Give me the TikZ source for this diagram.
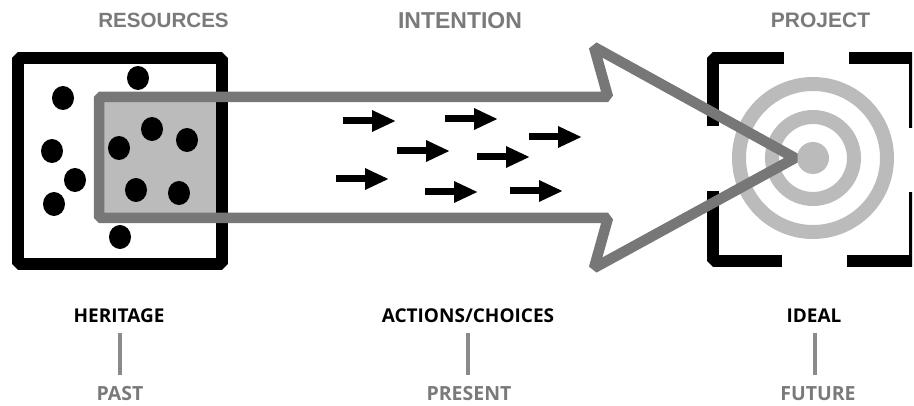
\documentclass[tikz,border=0pt]{standalone}
\usepackage{fontspec}
\usetikzlibrary{arrows.meta}
\newfontfamily\titlefont{Liberation Sans}
\newfontfamily\labfont{Open Sans}
\definecolor{darkgr}{HTML}{777777}
\definecolor{lightgr}{HTML}{BBBBBB}
\definecolor{textgr}{HTML}{7A7A7A}
\definecolor{linegr}{HTML}{8A8A8A}
\tikzset{
  titletext/.style={anchor=base, inner sep=0pt, text=textgr, font=\titlefont\bfseries},
  blacklabel/.style={anchor=base, inner sep=0pt, text=black, font=\labfont\bfseries\fontsize{19}{21}\selectfont},
  graylabel/.style={anchor=base, inner sep=0pt, text=textgr, font=\labfont\bfseries\fontsize{19.5}{21}\selectfont},
  blackframe/.style={draw=black, line width=12pt, line join=bevel},
  bigarrow/.style={draw=darkgr, line width=10.5pt, line join=bevel},
  dot/.style={fill=black},
  ring/.style={draw=lightgr, line width=14pt},
  smallarrow/.style={draw=black, line width=7pt, -{Triangle[length=24pt,width=20pt]}},
  timeline/.style={draw=linegr, line width=4pt}
}
\begin{document}
\begin{tikzpicture}[x=1pt,y=-1pt]
\useasboundingbox (0,0) rectangle (914,406);
% titles
\node[titletext, font=\titlefont\bfseries\fontsize{20.6}{22}\selectfont] (resources) at (163.5,27.5) {RESOURCES};
\node[titletext, font=\titlefont\bfseries\fontsize{23}{25}\selectfont] (intention) at (460,28.3) {INTENTION};
\node[titletext, font=\titlefont\bfseries\fontsize{21}{23}\selectfont] (project) at (820.5,27.3) {PROJECT};
% light fill of overlap
\fill[lightgr] (99,97) rectangle (222,218);
% resources box
\draw[blackframe] (18,58) rectangle (222,264);
% dots
\foreach \x/\y in {138/78, 63/98, 52/151, 75/180, 54/204, 120/237, 152/129, 187/140, 119/148, 136/190, 179/193}
  \fill[dot] (\x,\y) ellipse [x radius=11, y radius=12];
% target
\fill[lightgr] (813,158) circle [radius=16];
\draw[ring] (813,158) circle [radius=41];
\draw[ring] (813,158) circle [radius=74];
% brackets
\draw[blackframe] (784,58) -- (713,58) -- (713,126);
\draw[blackframe] (713,191) -- (713,261) -- (782,261);
\begin{scope}
\clip (0,0) rectangle (912,406);
\draw[blackframe] (849,58) -- (915,58) -- (915,128);
\draw[blackframe] (915,192) -- (915,261) -- (847,261);
\end{scope}
% big arrow
\draw[bigarrow] (99,97) -- (608,97) -- (594,47) -- (795,158) -- (594,268) -- (608,218) -- (99,218) -- cycle;
% small arrows
\foreach \x/\y in {343/121, 445/119, 529/137, 397/151, 477/157, 336/179, 425/192, 510/191}
  \draw[smallarrow] (\x,\y) -- ++(53,0);
% bottom labels
\node[blacklabel] (heritage) at (119,323) {HERITAGE};
\node[blacklabel] (actions) at (468,323) {ACTIONS/CHOICES};
\node[blacklabel] (ideal) at (814,323) {IDEAL};
\node[graylabel] (past) at (120,400) {PAST};
\node[graylabel] (present) at (469,400) {PRESENT};
\node[graylabel] (future) at (818,400) {FUTURE};
\coordinate (h1) at (120.3,333); \coordinate (h2) at (120.3,375);
\coordinate (a1) at (468,333); \coordinate (a2) at (468,375);
\coordinate (i1) at (815,333); \coordinate (i2) at (815,375);
\draw[timeline] (h1) -- (h2);
\draw[timeline] (a1) -- (a2);
\draw[timeline] (i1) -- (i2);
\end{tikzpicture}
\end{document}
